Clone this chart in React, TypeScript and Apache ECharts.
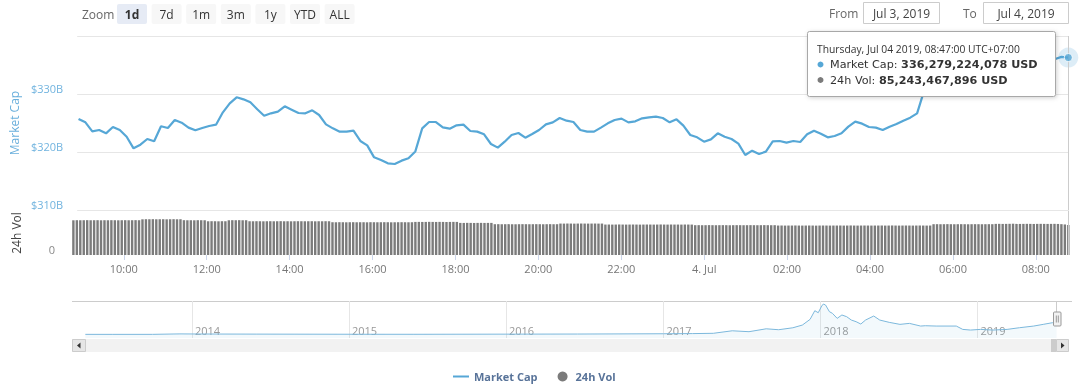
import React, { useEffect, useRef } from 'react';
import * as echarts from 'echarts';

// ---------- data (wall-clock times of UTC+07:00, stored as UTC) ----------
const FIRST_SAMPLE = '2019-07-03T08:47:00Z';
const X_MIN = '2019-07-03T08:45:00Z';
const X_MAX = '2019-07-04T08:48:00Z';
const MCAP_STEP_MIN = 10;
const VOL_STEP_MIN = 5;

// Market cap, billions USD, every 10 minutes from 08:47 Jul 3 to 08:47 Jul 4
const MCAP_B = [
  325.69, 325.11, 323.56, 323.79, 323.22, 324.31, 323.79, 322.64, 320.63, 321.26,
  322.24, 321.84, 324.43, 324.14, 325.52, 325.06, 324.20, 323.74, 324.14, 324.48,
  324.71, 326.84, 328.39, 329.43, 329.08, 328.56, 327.36, 326.26, 326.67, 326.95,
  327.87, 327.30, 326.72, 326.67, 327.18, 326.38, 324.77, 324.08, 323.51, 323.51,
  323.68, 321.90, 321.15, 319.08, 318.62, 318.05, 317.93, 318.51, 318.91, 320.10,
  324.08, 325.17, 325.17, 324.25, 324.02, 324.60, 324.71, 323.62, 323.51, 323.05,
  321.38, 320.75, 321.78, 322.93, 323.28, 322.47, 323.10, 323.79, 324.77, 325.11,
  325.86, 325.40, 325.17, 323.79, 323.51, 323.51, 324.20, 324.94, 325.52, 325.75,
  325.11, 325.29, 325.80, 325.98, 326.09, 325.86, 325.11, 325.63, 324.54, 322.93,
  322.53, 321.78, 322.18, 323.22, 322.64, 322.24, 321.44, 319.48, 320.23, 319.66,
  320.06, 321.84, 321.90, 321.61, 321.90, 321.72, 323.05, 323.68, 323.16, 322.53,
  322.76, 323.22, 324.37, 325.23, 324.89, 324.31, 324.20, 323.79, 324.37, 324.83,
  325.40, 325.92, 326.67, 330.50, 334.80, 336.20, 336.80, 336.40, 337.10, 336.60,
  336.00, 336.50, 337.20, 336.90, 336.30, 335.80, 336.40, 336.90, 336.50, 336.10,
  336.60, 336.20, 336.00, 336.40, 336.28,
];

// 24h volume, billions USD, every 5 minutes from 08:47 Jul 3 to 08:47 Jul 4
const VOL_B = [
  98.6, 98.9, 98.7, 98.8, 99.0, 98.7, 98.8, 98.9, 98.6, 98.8,
  98.7, 98.9, 98.8, 98.6, 98.8, 98.9, 98.7, 98.8, 99.0, 98.8,
  101.4, 101.7, 101.6, 101.8, 101.5, 101.6, 101.7, 101.4, 101.6, 101.8,
  101.5, 101.6, 98.9, 98.7, 98.8, 98.6, 98.9, 98.8, 98.7, 95.8,
  96.0, 95.9, 95.7, 96.0, 95.9, 98.7, 98.9, 98.8, 99.0, 98.7,
  98.8, 95.9, 95.8, 96.0, 95.9, 95.7, 95.9, 96.0, 95.8, 95.9,
  96.1, 95.8, 95.9, 95.7, 95.9, 96.0, 95.9, 95.8, 95.9, 96.0,
  95.7, 95.9, 95.8, 96.0, 95.9, 93.1, 93.0, 93.2, 93.1, 92.9,
  93.1, 93.2, 93.0, 93.1, 93.1, 92.9, 93.2, 93.1, 93.0, 93.1,
  93.2, 93.1, 92.9, 93.0, 93.1, 93.2, 93.1, 93.0, 93.1, 94.0,
  94.1, 93.9, 94.0, 94.2, 94.0, 93.9, 94.1, 94.0, 93.8, 94.0,
  94.1, 94.0, 91.2, 91.1, 91.3, 91.2, 91.0, 91.2, 91.3, 91.1,
  91.2, 91.2, 87.5, 87.6, 87.4, 87.5, 87.7, 87.5, 87.3, 87.5,
  87.6, 87.5, 87.4, 87.5, 87.6, 87.5, 87.3, 87.5, 87.6, 87.4,
  87.5, 89.3, 89.2, 89.4, 89.3, 89.1, 89.3, 89.4, 89.3, 89.2,
  89.3, 89.4, 89.2, 89.3, 86.5, 86.6, 86.4, 86.5, 86.7, 86.5,
  86.4, 86.5, 86.6, 86.5, 86.3, 86.5, 86.6, 86.5, 86.4, 86.5,
  86.7, 86.5, 86.4, 86.6, 86.5, 86.5, 86.4, 86.6, 86.5, 86.4,
  84.7, 84.8, 84.6, 84.7, 84.9, 84.7, 84.6, 84.7, 84.8, 84.7,
  84.5, 84.7, 84.8, 84.7, 84.6, 84.7, 84.8, 84.7, 84.6, 84.7,
  84.9, 84.7, 84.6, 84.7, 83.7, 83.8, 83.6, 83.7, 83.7, 83.9,
  83.7, 83.6, 83.7, 83.8, 83.7, 83.5, 83.7, 83.8, 83.7, 83.6,
  83.7, 83.7, 83.8, 83.6, 83.7, 83.9, 83.7, 83.6, 83.7, 83.8,
  83.7, 83.6, 83.7, 83.7, 83.8, 83.6, 83.7, 83.9, 83.7, 83.6,
  83.7, 83.8, 83.7, 83.6, 83.7, 83.8, 83.7, 83.6, 83.7, 87.5,
  87.6, 87.4, 87.5, 87.7, 87.5, 87.4, 87.5, 87.6, 87.5, 87.3,
  87.5, 87.6, 87.5, 87.4, 87.5, 87.6, 87.5, 88.4, 88.5, 88.3,
  88.4, 88.6, 88.9, 88.4, 88.3, 88.4, 88.5, 88.4, 88.2, 88.4,
  88.5, 88.4, 88.3, 88.4, 88.5, 88.2, 87.6, 86.8, 85.24,
];

const TOOLTIP_MCAP_USD = 336279224078;
const TOOLTIP_VOL_USD = 85243467896;

const X_TICK_TIMES = [
  '2019-07-03T10:00:00Z', '2019-07-03T12:00:00Z', '2019-07-03T14:00:00Z',
  '2019-07-03T16:00:00Z', '2019-07-03T18:00:00Z', '2019-07-03T20:00:00Z',
  '2019-07-03T22:00:00Z', '2019-07-04T00:00:00Z', '2019-07-04T02:00:00Z',
  '2019-07-04T04:00:00Z', '2019-07-04T06:00:00Z', '2019-07-04T08:00:00Z',
];
const X_TICK_LABELS = ['10:00', '12:00', '14:00', '16:00', '18:00', '20:00', '22:00', '4. Jul', '02:00', '04:00', '06:00', '08:00'];

const MCAP_AXIS = { min: 310, max: 340, step: 10 };
const VOL_AXIS = { min: 0, max: 125 };

// Navigator: total market cap history, billions USD
const NAV_DATES = [
  '2013-04-28', '2013-07-01', '2013-10-01', '2013-12-04', '2014-01-15', '2014-06-01',
  '2015-01-15', '2015-06-01', '2016-01-01', '2016-06-15', '2017-01-01', '2017-03-10',
  '2017-04-27', '2017-06-10', '2017-07-19', '2017-08-28', '2017-09-26', '2017-10-29',
  '2017-11-20', '2017-12-08', '2017-12-19', '2017-12-27', '2018-01-04', '2018-01-08',
  '2018-01-13', '2018-01-22', '2018-01-29', '2018-02-09', '2018-02-20', '2018-03-03',
  '2018-03-14', '2018-03-25', '2018-04-05', '2018-04-16', '2018-05-05', '2018-05-19',
  '2018-06-10', '2018-07-05', '2018-07-27', '2018-08-22', '2018-09-02', '2018-09-27',
  '2018-11-13', '2018-11-28', '2018-12-16', '2019-01-08', '2019-02-06', '2019-03-11',
  '2019-04-09', '2019-05-12', '2019-06-03', '2019-06-25', '2019-07-04',
];
const NAV_B = [
  1.6, 1.2, 1.8, 14, 11, 8,
  4, 3.5, 7, 10, 18, 22,
  30, 99, 74, 153, 128, 181,
  255, 410, 647, 592, 775, 830,
  802, 620, 575, 438, 530, 484,
  392, 347, 283, 392, 502, 392,
  329, 274, 301, 228, 237, 228,
  228, 137, 119, 137, 119, 137,
  183, 228, 274, 320, 336,
];
const NAV_X_MIN = '2013-03-28T00:00:00Z';
const NAV_X_MAX = '2019-08-02T00:00:00Z';
const NAV_Y = { min: -98, max: 912 };
const NAV_YEARS = ['2014', '2015', '2016', '2017', '2018', '2019'];

const ZOOM_BUTTONS = ['1d', '7d', '1m', '3m', '1y', 'YTD', 'ALL'];
const ZOOM_SELECTED = '1d';
const DATE_FROM = 'Jul 3, 2019';
const DATE_TO = 'Jul 4, 2019';

// ---------- styles ----------
const FONT = '"Open Sans", "Noto Sans", sans-serif';
const TIP_FONT = '"DejaVu Sans", Verdana, sans-serif';
const LINE_COLOR = '#56a7d6';
const VOL_COLOR = '#7b7b7b';

const WEEKDAYS = ['Sunday', 'Monday', 'Tuesday', 'Wednesday', 'Thursday', 'Friday', 'Saturday'];
const MONTHS = ['Jan', 'Feb', 'Mar', 'Apr', 'May', 'Jun', 'Jul', 'Aug', 'Sep', 'Oct', 'Nov', 'Dec'];
const pad = (n: number) => (n < 10 ? '0' + n : '' + n);

export default function App() {
  const ref = useRef<HTMLDivElement>(null);

  useEffect(() => {
    if (!ref.current) return;
    const chart = echarts.init(ref.current, undefined, { renderer: 'svg' });

    const t0 = Date.parse(FIRST_SAMPLE);
    const mcapData = MCAP_B.map((v, i) => [t0 + i * MCAP_STEP_MIN * 60000, v]);
    const volData = VOL_B.map((v, i) => [t0 + i * VOL_STEP_MIN * 60000, v]);
    const last = mcapData[mcapData.length - 1];
    const lastT = last[0] as number;
    const tickMs = X_TICK_TIMES.map((s) => Date.parse(s));
    const navData = NAV_DATES.map((d, i) => [Date.parse(d + 'T00:00:00Z'), NAV_B[i]]);
    const yearMs = NAV_YEARS.map((y) => Date.parse(y + '-01-01T00:00:00Z'));

    const d = new Date(lastT);
    const header = `${WEEKDAYS[d.getUTCDay()]}, ${MONTHS[d.getUTCMonth()]} ${pad(d.getUTCDate())} ${d.getUTCFullYear()}, ${pad(d.getUTCHours())}:${pad(d.getUTCMinutes())}:00 UTC+07:00`;

    const xMin = Date.parse(X_MIN);
    const xMax = Date.parse(X_MAX);

    const mid = { verticalAlign: 'middle', textVerticalAlign: 'middle' };
    const ctr = { align: 'center', textAlign: 'center' };

    const graphic: any[] = [];
    // range selector
    graphic.push({ type: 'text', x: 82, y: 14, style: { text: 'Zoom', fill: '#666', font: `12px ${FONT}`, ...mid } });
    ZOOM_BUTTONS.forEach((b, i) => {
      const bx = 117 + i * 34.6;
      const sel = b === ZOOM_SELECTED;
      graphic.push({ type: 'rect', shape: { x: bx, y: 4, width: 30, height: 20, r: 2 }, style: { fill: sel ? '#e6ebf5' : '#f7f7f7' } });
      graphic.push({ type: 'text', x: bx + 15, y: 14, style: { text: b, fill: '#333', font: `${sel ? 'bold ' : ''}12px ${FONT}`, ...ctr, ...mid } });
    });
    // date inputs
    graphic.push({ type: 'text', x: 829, y: 13, style: { text: 'From', fill: '#666', font: `12px ${FONT}`, ...mid } });
    graphic.push({ type: 'rect', shape: { x: 863.5, y: 2.5, width: 76, height: 21 }, style: { fill: '#fff', stroke: '#cccccc', lineWidth: 1 } });
    graphic.push({ type: 'text', x: 901.5, y: 13, style: { text: DATE_FROM, fill: '#444', font: `12px ${FONT}`, ...ctr, ...mid } });
    graphic.push({ type: 'text', x: 963, y: 13, style: { text: 'To', fill: '#666', font: `12px ${FONT}`, ...mid } });
    graphic.push({ type: 'rect', shape: { x: 983.5, y: 2.5, width: 85, height: 21 }, style: { fill: '#fff', stroke: '#cccccc', lineWidth: 1 } });
    graphic.push({ type: 'text', x: 1026, y: 13, style: { text: DATE_TO, fill: '#444', font: `12px ${FONT}`, ...ctr, ...mid } });

    // navigator outline + handle
    graphic.push({ type: 'line', shape: { x1: 72, y1: 301.5, x2: 1072, y2: 301.5 }, style: { stroke: '#cccccc', lineWidth: 1 } });
    graphic.push({ type: 'line', shape: { x1: 1056.5, y1: 301.5, x2: 1056.5, y2: 312 }, style: { stroke: '#cccccc', lineWidth: 1 } });
    graphic.push({ type: 'rect', shape: { x: 1053.5, y: 312, width: 7.5, height: 14, r: 1 }, style: { fill: '#f2f2f2', stroke: '#999999', lineWidth: 1 }, z: 10 });
    graphic.push({ type: 'line', shape: { x1: 1056.3, y1: 315.5, x2: 1056.3, y2: 322.5 }, style: { stroke: '#999', lineWidth: 1 }, z: 11 });
    graphic.push({ type: 'line', shape: { x1: 1058.3, y1: 315.5, x2: 1058.3, y2: 322.5 }, style: { stroke: '#999', lineWidth: 1 }, z: 11 });
    // scrollbar
    graphic.push({ type: 'rect', shape: { x: 72, y: 339, width: 997, height: 13 }, style: { fill: '#f2f2f2' } });
    graphic.push({ type: 'rect', shape: { x: 72.5, y: 339.5, width: 13, height: 12 }, style: { fill: '#e6e6e6', stroke: '#cccccc', lineWidth: 1 } });
    graphic.push({ type: 'polygon', shape: { points: [[80.5, 342.5], [80.5, 348.5], [77, 345.5]] }, style: { fill: '#333' } });
    graphic.push({ type: 'rect', shape: { x: 1051, y: 339, width: 5.5, height: 13 }, style: { fill: '#cccccc' } });
    graphic.push({ type: 'rect', shape: { x: 1056.5, y: 339.5, width: 12, height: 12 }, style: { fill: '#e6e6e6', stroke: '#cccccc', lineWidth: 1 } });
    graphic.push({ type: 'polygon', shape: { points: [[1061, 342.5], [1061, 348.5], [1064.5, 345.5]] }, style: { fill: '#333' } });

    // tooltip (drawn above the series)
    const TZ = 100;
    graphic.push({ type: 'rect', z: TZ, shape: { x: 807.5, y: 31.5, width: 248, height: 65, r: 2 }, style: { fill: '#ffffff', stroke: '#a8a8a8', lineWidth: 1, shadowBlur: 4, shadowOffsetX: 1, shadowOffsetY: 1, shadowColor: 'rgba(0,0,0,0.18)' } });
    graphic.push({ type: 'text', z: TZ + 1, x: 817, y: 49, style: { text: header, fill: '#333', font: `10.3px ${FONT}`, lineHeight: 12, ...mid } });
    graphic.push({ type: 'circle', z: TZ + 1, shape: { cx: 820.5, cy: 64.5, r: 3 }, style: { fill: LINE_COLOR } });
    graphic.push({
      type: 'text', z: TZ + 1, x: 830, y: 64.5, style: {
        text: `Market Cap: {b|${TOOLTIP_MCAP_USD.toLocaleString('en-US')} USD}`, fill: '#333', font: `11.2px ${TIP_FONT}`, lineHeight: 13, ...mid,
        rich: { b: { font: `bold 11.2px ${TIP_FONT}`, fill: '#333', lineHeight: 13 } },
      },
    });
    graphic.push({ type: 'circle', z: TZ + 1, shape: { cx: 820.5, cy: 80, r: 3 }, style: { fill: VOL_COLOR } });
    graphic.push({
      type: 'text', z: TZ + 1, x: 830, y: 80, style: {
        text: `24h Vol: {b|${TOOLTIP_VOL_USD.toLocaleString('en-US')} USD}`, fill: '#333', font: `11.2px ${TIP_FONT}`, lineHeight: 13, ...mid,
        rich: { b: { font: `bold 11.2px ${TIP_FONT}`, fill: '#333', lineHeight: 13 } },
      },
    });

    const option: any = {
      animation: false,
      textStyle: { fontFamily: FONT },
      grid: [
        { left: 72, width: 997, top: 36, height: 174 },
        { left: 72, width: 997, top: 211, height: 44 },
        { left: 72, width: 997, top: 301, height: 37 },
      ],
      legend: {
        data: [
          { name: 'Market Cap', icon: 'path://M0 0H16V2H0Z' },
          { name: '24h Vol', icon: 'circle' },
        ],
        left: 448, top: 366, itemWidth: 16, itemHeight: 10, itemGap: 20,
        textStyle: { color: '#587399', fontWeight: 'bold', fontSize: 11, fontFamily: FONT },
        selectedMode: false,
      },
      xAxis: [
        {
          type: 'value', gridIndex: 0, min: xMin, max: xMax,
          axisLine: { show: false }, axisTick: { show: false }, axisLabel: { show: false }, splitLine: { show: false },
        },
        {
          type: 'value', gridIndex: 1, min: xMin, max: xMax,
          axisLine: { show: false },
          axisTick: { show: true, length: 5, lineStyle: { color: '#ccd6eb' }, customValues: tickMs },
          axisLabel: {
            customValues: tickMs, color: '#777', fontSize: 11, margin: 8, fontFamily: FONT,
            formatter: (v: number) => { const i = tickMs.indexOf(v); return i >= 0 ? X_TICK_LABELS[i] : ''; },
          },
          splitLine: { show: false },
        },
        {
          type: 'value', gridIndex: 2, min: Date.parse(NAV_X_MIN), max: Date.parse(NAV_X_MAX),
          axisLine: { show: false },
          axisTick: { show: false, customValues: yearMs },
          axisLabel: {
            customValues: yearMs, inside: true, color: '#999', fontSize: 11, margin: 2, align: 'left', verticalAlign: 'bottom', padding: [0, 0, 0, 3], fontFamily: FONT,
            formatter: (v: number) => { const i = yearMs.indexOf(v); return i >= 0 ? NAV_YEARS[i] : ''; },
          },
          splitLine: { show: true, lineStyle: { color: '#e6e6e6' } },
        },
      ],
      yAxis: [
        {
          type: 'value', gridIndex: 0, min: MCAP_AXIS.min, max: MCAP_AXIS.max, interval: MCAP_AXIS.step,
          name: 'Market Cap', nameLocation: 'middle', nameGap: 56,
          nameTextStyle: { color: '#6aafdc', fontSize: 12, fontFamily: FONT },
          axisLine: { show: false }, axisTick: { show: false },
          axisLabel: {
            color: '#72b4df', fontSize: 11, margin: 14, verticalAlign: 'bottom', fontFamily: FONT,
            formatter: (v: number) => (v === MCAP_AXIS.max ? '' : `$${v}B`),
          },
          splitLine: { lineStyle: { color: '#e6e6e6' } },
        },
        {
          type: 'value', gridIndex: 1, min: VOL_AXIS.min, max: VOL_AXIS.max, interval: VOL_AXIS.max,
          name: '24h Vol', nameLocation: 'middle', nameGap: 50,
          nameTextStyle: { color: '#444', fontSize: 12, fontFamily: FONT },
          axisLine: { show: false }, axisTick: { show: false },
          axisLabel: {
            color: '#888', fontSize: 11, margin: 17, verticalAlign: 'bottom', fontFamily: FONT,
            formatter: (v: number) => (v === VOL_AXIS.min ? '0' : ''),
          },
          splitLine: { show: false },
        },
        {
          type: 'value', gridIndex: 2, min: NAV_Y.min, max: NAV_Y.max, show: false, splitLine: { show: false },
        },
      ],
      series: [
        {
          name: 'Market Cap', type: 'line', xAxisIndex: 0, yAxisIndex: 0, data: mcapData,
          showSymbol: false, symbol: 'none', lineStyle: { color: LINE_COLOR, width: 2.2 }, itemStyle: { color: LINE_COLOR },
          markLine: { silent: true, symbol: 'none', label: { show: false }, lineStyle: { color: '#cccccc', width: 1, type: 'solid' }, data: [{ xAxis: lastT }] },
          z: 3,
        },
        {
          name: 'halo', type: 'scatter', xAxisIndex: 0, yAxisIndex: 0, data: [last],
          symbolSize: 20, itemStyle: { color: 'rgba(86,167,214,0.25)' }, silent: true, z: 4,
        },
        {
          name: 'hover', type: 'scatter', xAxisIndex: 0, yAxisIndex: 0, data: [last],
          symbolSize: 8, itemStyle: { color: LINE_COLOR, borderColor: '#fff', borderWidth: 1 }, silent: true, z: 5,
        },
        {
          name: '24h Vol', type: 'bar', xAxisIndex: 1, yAxisIndex: 1, data: volData,
          barWidth: 2.4, itemStyle: { color: VOL_COLOR },
          markLine: { silent: true, symbol: 'none', label: { show: false }, lineStyle: { color: '#cccccc', width: 1, type: 'solid' }, data: [{ xAxis: lastT }] },
        },
        {
          name: 'nav', type: 'line', xAxisIndex: 2, yAxisIndex: 2, data: navData,
          showSymbol: false, symbol: 'none', lineStyle: { color: '#7cb8dc', width: 1 },
          areaStyle: { color: 'rgba(124,184,220,0.13)', origin: 'start' },
        },
      ],
      graphic,
    };

    chart.setOption(option);
    return () => chart.dispose();
  }, []);

  return <div ref={ref} style={{ position: 'fixed', left: 0, top: 0, width: 1080, height: 384 }} />;
}
